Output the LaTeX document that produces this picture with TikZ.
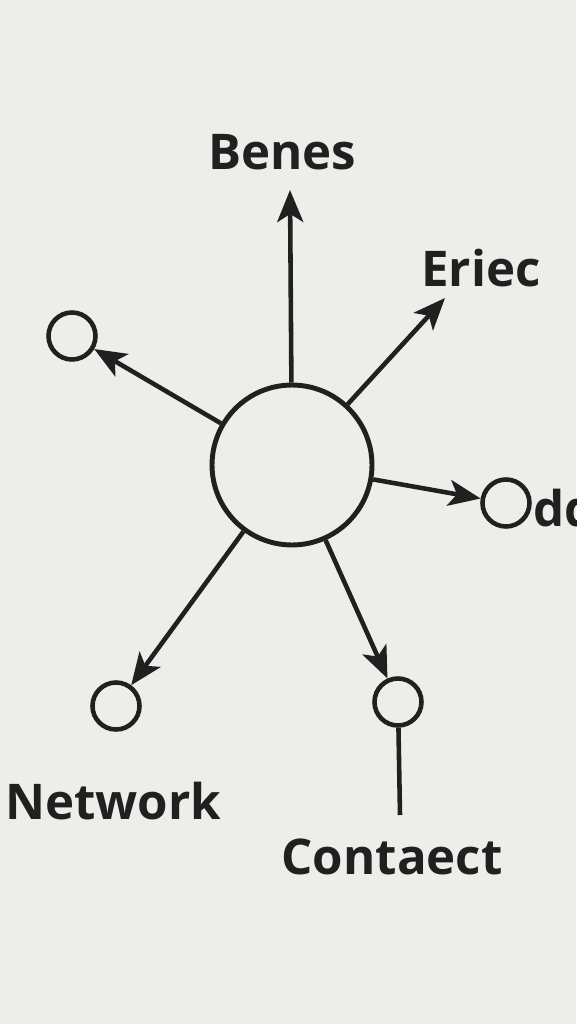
\documentclass[tikz,border=0pt]{standalone}
\usepackage{fontspec}
\setmainfont{Open Sans}
\usetikzlibrary{arrows.meta}
\definecolor{paper}{HTML}{EDEDEA}
\definecolor{ink}{HTML}{202020}
\tikzset{
  hub/.style = {circle, draw = ink, line width = 2.8pt, minimum size = 3.2cm, inner sep = 0pt},
  leaf/.style = {circle, draw = ink, line width = 2.6pt, minimum size = 0.94cm, inner sep = 0pt},
  link/.style = {draw = ink, line width = 2.6pt, -{Stealth[length = 6.4mm, width = 5.2mm, inset = 1.6mm]}},
  word/.style = {text = ink, font = \bfseries\fontsize{28}{34}\selectfont, inner sep = 0pt}
}
\newcommand{\myLeaf}[2]{
\node[leaf] (#1) at (#2) {};
\draw[link] (hub) -- (#1);
}

\begin{document}
\begin{tikzpicture}[x = 0.02cm, y = -0.02cm]
	\fill[paper] (0,0) rectangle (576,1024);
	\useasboundingbox (0,0) rectangle (576,1024);

	\node[hub] (hub) at (292,465) {};

	% arrows with a label at the free end
	\coordinate (benesTip) at (290,190);
	\coordinate (eriecTip) at (445,298);
	\draw[link] (hub) -- (benesTip);
	\draw[link] (hub) -- (eriecTip);
	\node[word] (benes) at (282,152) {Benes};
	\node[word] (eriec) at (481,268) {Eriec};

	% small circles
	\myLeaf{nw}{72,336}
	\myLeaf{odd}{506,503}
	\myLeaf{net}{116,706}
	\myLeaf{con}{398,702}

	\coordinate (conEnd) at (400,815);
	\draw[ink, line width = 2.6pt] (con) -- (conEnd);

	\node[word, anchor = west] (dd) at (533,508) {dd};
	\node[word] (network) at (113,801) {Network};
	\node[word] (contaect) at (392,857) {Contaect};
\end{tikzpicture}
\end{document}
